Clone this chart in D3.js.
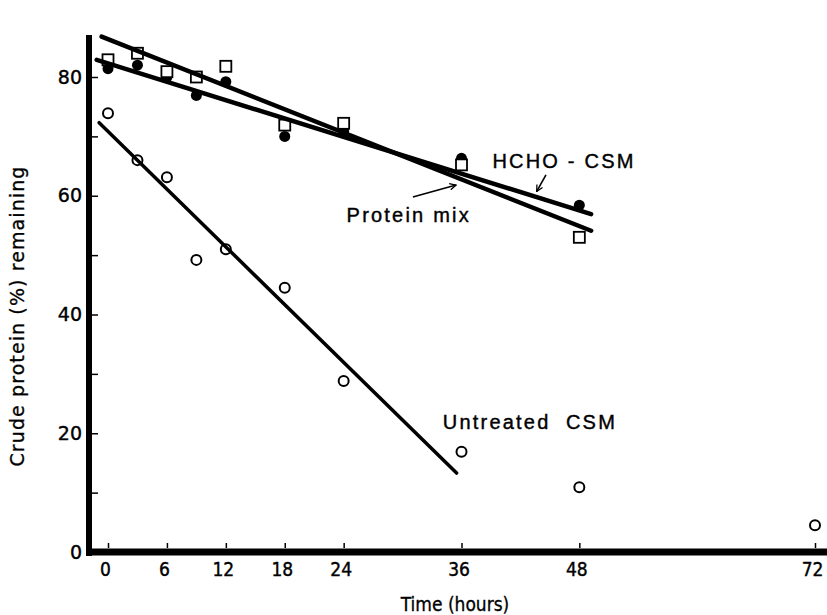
<!DOCTYPE html>
<html>
<head>
<meta charset="utf-8">
<script src="https://cdn.jsdelivr.net/npm/d3@7"></script>
<style>
  body { margin: 0; background: #fff; }
  .tick line { stroke: #000; stroke-width: 1.5; }
</style>
</head>
<body>
<svg id="chart" width="827" height="615"></svg>
<script>
// values
const hours = [0, 3, 6, 9, 12, 18, 24, 36, 48, 72];
const untreatedCSM = [73.9, 66.0, 63.1, 49.2, 51.0, 44.5, 28.8, 16.9, 10.9, 4.5];
const hchoCSM = [81.4, 82.0, 80.0, 76.9, 79.2, 70.0, 70.9, 66.3, 58.4];
const proteinMix = [82.9, 84.0, 80.9, 80.0, 81.8, 71.9, 72.2, 65.2, 53.0];

const xTicks = [0, 6, 12, 18, 24, 36, 48, 72];
const yTicks = [0, 10, 20, 30, 40, 50, 60, 70, 80];

// hand-drawn regression lines, [hours, %] at both ends
const fitUntreated = [[-0.9, 72.3], [35.5, 13.3]];
const fitHcho = [[-1.15, 82.9], [49.2, 56.9]];
const fitProteinMix = [[-0.65, 86.8], [49.2, 54.1]];

// labels + arrows, [hours, %]
const labels = [
  {text: "HCHO - CSM", at: [39.15, 64.7]},
  {text: "Protein mix", at: [24.3, 55.6]},
  {text: "Untreated  CSM", at: [34.1, 20.7]}
];
const arrows = [
  [[44.6, 63.5], [43.65, 60.7]],
  [[31.05, 59.8], [35.45, 61.8]]
];

const svg = d3.select("#chart");
svg.append("rect").attr("width", 827).attr("height", 615).attr("fill", "#fff");

const x = d3.scaleLinear().domain([0, 72]).range([108, 815]);
const y = d3.scaleLinear().domain([0, 80]).range([552, 77]);

// axes
const yAxis = svg.append("g")
    .attr("transform", "translate(92,0)")
    .call(d3.axisLeft(y)
        .tickValues(yTicks)
        .tickSize(-6)
        .tickPadding(10)
        .tickFormat(d => d % 20 === 0 ? d : ""));
yAxis.select(".domain").remove();
yAxis.selectAll("text")
    .attr("font-family", "DejaVu Sans, sans-serif")
    .attr("font-size", 19)
    .attr("fill", "#000")
    .attr("stroke", "#000").attr("stroke-width", 0.4);

const xAxis = svg.append("g")
    .attr("transform", "translate(0,548)")
    .call(d3.axisBottom(x)
        .tickValues(xTicks)
        .tickSize(-5)
        .tickPadding(15));
xAxis.select(".domain").remove();
xAxis.selectAll("text")
    .attr("dx", -3)
    .attr("font-family", "Liberation Sans Narrow, DejaVu Sans Condensed, sans-serif")
    .attr("font-size", 19)
    .attr("fill", "#000")
    .attr("stroke", "#000").attr("stroke-width", 0.4);

// thick frame lines
svg.append("line")
    .attr("x1", 89).attr("x2", 89).attr("y1", 35).attr("y2", 556)
    .attr("stroke", "#000").attr("stroke-width", 6);
svg.append("line")
    .attr("x1", 86).attr("x2", 827).attr("y1", 552).attr("y2", 552)
    .attr("stroke", "#000").attr("stroke-width", 7);

// axis titles
svg.append("text")
    .attr("transform", "translate(24,316) rotate(-90)")
    .attr("text-anchor", "middle")
    .attr("font-family", "DejaVu Sans, sans-serif")
    .attr("font-size", 19)
    .attr("letter-spacing", 1.1)
    .attr("stroke", "#000").attr("stroke-width", 0.3)
    .text("Crude protein (%) remaining");

svg.append("text")
    .attr("x", 455).attr("y", 611)
    .attr("text-anchor", "middle")
    .attr("font-family", "Liberation Sans Narrow, DejaVu Sans Condensed, sans-serif")
    .attr("font-size", 19)
    .attr("stroke", "#000").attr("stroke-width", 0.3)
    .text("Time (hours)");

// points
const pts = (vals) => vals.map((v, i) => ({t: hours[i], v}));

svg.append("g").selectAll("circle")
    .data(pts(hchoCSM))
    .join("circle")
    .attr("cx", d => x(d.t)).attr("cy", d => y(d.v))
    .attr("r", 5.5).attr("fill", "#000");

svg.append("g").selectAll("rect")
    .data(pts(proteinMix))
    .join("rect")
    .attr("x", d => x(d.t) - 5.5).attr("y", d => y(d.v) - 5.5)
    .attr("width", 11).attr("height", 11)
    .attr("fill", "#fff").attr("stroke", "#000").attr("stroke-width", 1.8);

svg.append("g").selectAll("circle")
    .data(pts(untreatedCSM))
    .join("circle")
    .attr("cx", d => x(d.t)).attr("cy", d => y(d.v))
    .attr("r", 5).attr("fill", "#fff")
    .attr("stroke", "#000").attr("stroke-width", 2);

// fitted lines
const line = d3.line().x(d => x(d[0])).y(d => y(d[1]));
svg.append("path").datum(fitProteinMix).attr("d", line)
    .attr("stroke", "#000").attr("stroke-width", 4.5).attr("stroke-linecap", "round").attr("fill", "none");
svg.append("path").datum(fitHcho).attr("d", line)
    .attr("stroke", "#000").attr("stroke-width", 4.5).attr("stroke-linecap", "round").attr("fill", "none");
svg.append("path").datum(fitUntreated).attr("d", line)
    .attr("stroke", "#000").attr("stroke-width", 3.5).attr("stroke-linecap", "round").attr("fill", "none");

// annotations
svg.append("defs").append("marker")
    .attr("id", "head")
    .attr("viewBox", "0 0 10 10")
    .attr("refX", 9).attr("refY", 5)
    .attr("markerWidth", 8).attr("markerHeight", 8)
    .attr("markerUnits", "userSpaceOnUse")
    .attr("orient", "auto")
  .append("path")
    .attr("d", "M1,1 L9,5 L1,9")
    .attr("fill", "none").attr("stroke", "#000").attr("stroke-width", 1.6);

svg.append("g").selectAll("path")
    .data(arrows)
    .join("path")
    .attr("d", line)
    .attr("stroke", "#000").attr("stroke-width", 1.6).attr("fill", "none")
    .attr("marker-end", "url(#head)");

svg.append("g").selectAll("text")
    .data(labels)
    .join("text")
    .attr("x", d => x(d.at[0])).attr("y", d => y(d.at[1]))
    .attr("font-family", "Liberation Sans, Arial, sans-serif")
    .attr("font-size", 20)
    .attr("letter-spacing", 2.2)
    .attr("stroke", "#000").attr("stroke-width", 0.4)
    .style("white-space", "pre")
    .text(d => d.text);
</script>
</body>
</html>
